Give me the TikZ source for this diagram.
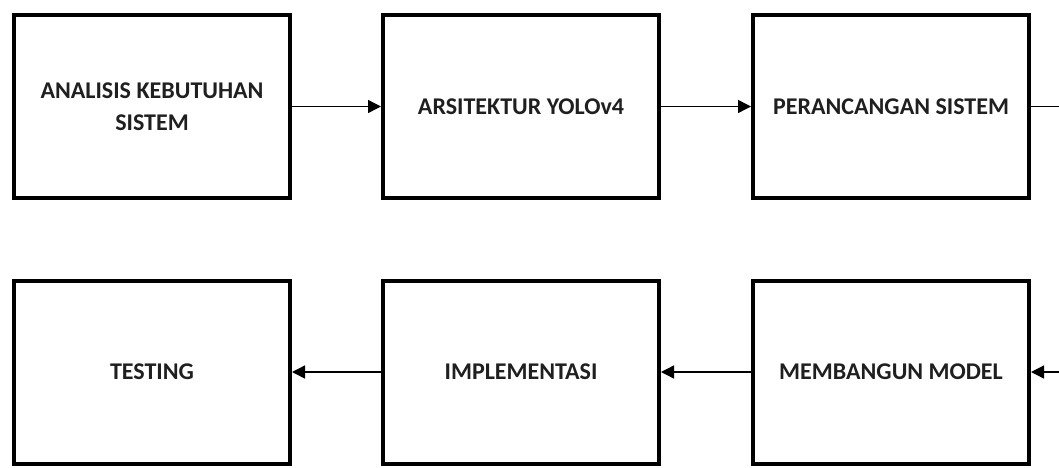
\documentclass[tikz,border=0pt]{standalone}
\usepackage{fontspec}
\setmainfont{Carlito}
\usetikzlibrary{arrows.meta}
\begin{document}
\begin{tikzpicture}[x=1pt,y=-1pt,
  stage/.style={draw=black, line width=4pt, minimum width=276pt, minimum height=183pt,
    align=center, font=\bfseries\fontsize{24}{32}\selectfont, text=black!88, inner sep=0pt},
  conn/.style={line width=1.4pt, -{Triangle[length=13pt,width=13pt]}}]
\useasboundingbox (0,0) rectangle (1059,467);
\clip (0,0) rectangle (1059,467);
\node[stage] (a) at (152,106.5) {ANALISIS KEBUTUHAN\\SISTEM};
\node[stage] (b) at (521,106.5) {ARSITEKTUR YOLOv4};
\node[stage] (c) at (891,106.5) {PERANCANGAN SISTEM};
\node[stage] (f) at (152,372) {TESTING};
\node[stage] (e) at (521,372) {IMPLEMENTASI};
\node[stage] (d) at (891,372) {MEMBANGUN MODEL};
\draw[conn] (a) -- (b);
\draw[conn] (b) -- (c);
\draw[conn] (c.east) -- ++(60,0) |- (d.east);
\draw[conn] (d) -- (e);
\draw[conn] (e) -- (f);
\end{tikzpicture}
\end{document}
